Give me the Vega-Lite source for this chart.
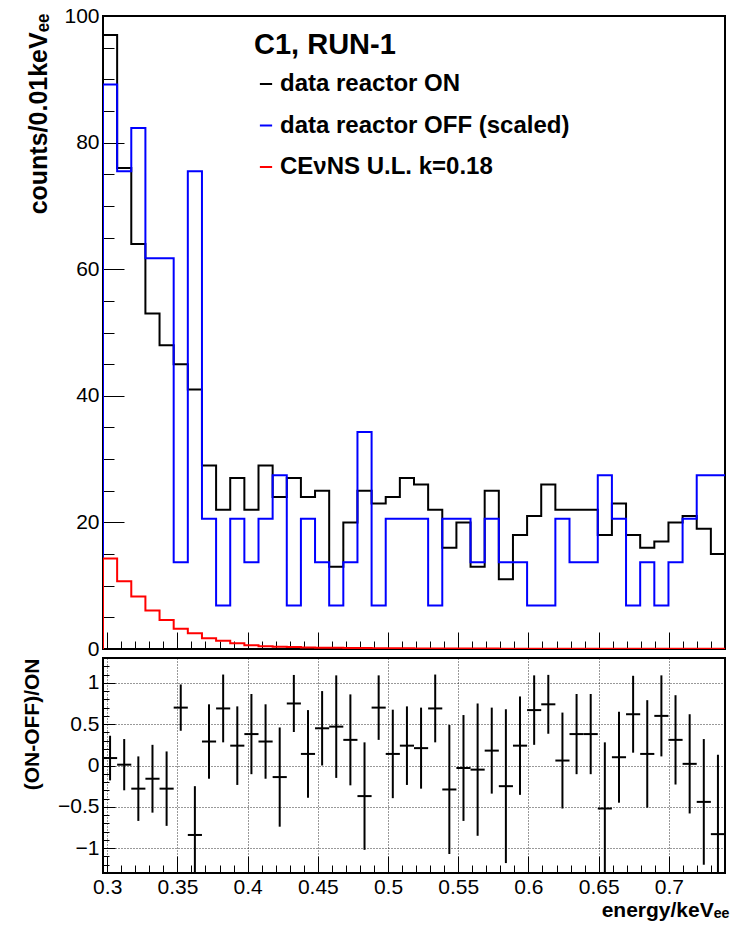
{
  "$schema": "https://vega.github.io/schema/vega-lite/v6.json",
  "padding": {"left": 20, "top": 4, "right": 5, "bottom": 5},
  "background": "white",
  "config": {
    "font": "Liberation Sans",
    "view": {"stroke": "black", "strokeWidth": 2},
    "axis": {"labelFont": "Liberation Sans", "labelFontSize": 21, "labelColor": "black", "titleFont": "Liberation Sans", "titleFontWeight": "bold", "titleFontSize": 21, "titleColor": "black", "tickColor": "black", "domain": false, "labelOverlap": false, "labelFlush": false, "labelBound": false}
  },
  "bounds": "flush",
  "spacing": 9,
  "datasets": {
    "hist": [
      {"lo": 0.297, "on": 0, "off": 0, "ul": 0},
      {"lo": 0.297, "on": 97, "off": 89.18, "ul": 14.3},
      {"lo": 0.30707, "on": 76, "off": 75.46, "ul": 10.7},
      {"lo": 0.31714, "on": 64, "off": 82.32, "ul": 8.3},
      {"lo": 0.3272, "on": 53, "off": 61.74, "ul": 6.1},
      {"lo": 0.33727, "on": 48, "off": 61.74, "ul": 4.6},
      {"lo": 0.34734, "on": 45, "off": 13.72, "ul": 3.2},
      {"lo": 0.35741, "on": 41, "off": 75.46, "ul": 2.5},
      {"lo": 0.36748, "on": 29, "off": 20.58, "ul": 1.7},
      {"lo": 0.37755, "on": 22, "off": 6.86, "ul": 1.3},
      {"lo": 0.38761, "on": 27, "off": 20.58, "ul": 0.9},
      {"lo": 0.39768, "on": 22, "off": 13.72, "ul": 0.6},
      {"lo": 0.40775, "on": 29, "off": 20.58, "ul": 0.45},
      {"lo": 0.41782, "on": 24, "off": 27.44, "ul": 0.35},
      {"lo": 0.42789, "on": 27, "off": 6.86, "ul": 0.3},
      {"lo": 0.43795, "on": 24, "off": 20.58, "ul": 0.25},
      {"lo": 0.44802, "on": 25, "off": 13.72, "ul": 0.2},
      {"lo": 0.45809, "on": 13, "off": 6.86, "ul": 0.18},
      {"lo": 0.46816, "on": 20, "off": 13.72, "ul": 0.16},
      {"lo": 0.47823, "on": 25, "off": 34.3, "ul": 0.14},
      {"lo": 0.4883, "on": 23, "off": 6.86, "ul": 0.12},
      {"lo": 0.49836, "on": 24, "off": 20.58, "ul": 0.11},
      {"lo": 0.50843, "on": 27, "off": 20.58, "ul": 0.1},
      {"lo": 0.5185, "on": 26, "off": 20.58, "ul": 0.09},
      {"lo": 0.52857, "on": 22, "off": 6.86, "ul": 0.08},
      {"lo": 0.53864, "on": 16, "off": 20.58, "ul": 0.07},
      {"lo": 0.5487, "on": 20, "off": 20.58, "ul": 0.07},
      {"lo": 0.55877, "on": 13, "off": 13.72, "ul": 0.06},
      {"lo": 0.56884, "on": 25, "off": 20.58, "ul": 0.06},
      {"lo": 0.57891, "on": 11, "off": 13.72, "ul": 0.05},
      {"lo": 0.58898, "on": 18, "off": 13.72, "ul": 0.05},
      {"lo": 0.59905, "on": 21, "off": 6.86, "ul": 0.05},
      {"lo": 0.60911, "on": 26, "off": 6.86, "ul": 0.04},
      {"lo": 0.61918, "on": 22, "off": 20.58, "ul": 0.04},
      {"lo": 0.62925, "on": 22, "off": 13.72, "ul": 0.04},
      {"lo": 0.63932, "on": 22, "off": 13.72, "ul": 0.04},
      {"lo": 0.64939, "on": 18, "off": 27.44, "ul": 0.03},
      {"lo": 0.65945, "on": 23, "off": 20.58, "ul": 0.03},
      {"lo": 0.66952, "on": 18, "off": 6.86, "ul": 0.03},
      {"lo": 0.67959, "on": 16, "off": 13.72, "ul": 0.03},
      {"lo": 0.68966, "on": 17, "off": 6.86, "ul": 0.03},
      {"lo": 0.69973, "on": 20, "off": 13.72, "ul": 0.03},
      {"lo": 0.7098, "on": 21, "off": 20.58, "ul": 0.02},
      {"lo": 0.71986, "on": 19, "off": 27.44, "ul": 0.02},
      {"lo": 0.72993, "on": 15, "off": 27.44, "ul": 0.02},
      {"lo": 0.74, "on": 15, "off": 27.44, "ul": 0.02}
    ],
    "ratio": [
      {"lo": 0.297, "hi": 0.30707, "mid": 0.30203, "r": 0.09, "rlo": -0.18, "rhi": 0.36},
      {"lo": 0.30707, "hi": 0.31714, "mid": 0.3121, "r": 0.01, "rlo": -0.3, "rhi": 0.32},
      {"lo": 0.31714, "hi": 0.3272, "mid": 0.32217, "r": -0.28, "rlo": -0.67, "rhi": 0.11},
      {"lo": 0.3272, "hi": 0.33727, "mid": 0.33224, "r": -0.16, "rlo": -0.57, "rhi": 0.25},
      {"lo": 0.33727, "hi": 0.34734, "mid": 0.3423, "r": -0.28, "rlo": -0.73, "rhi": 0.17},
      {"lo": 0.34734, "hi": 0.35741, "mid": 0.35237, "r": 0.7, "rlo": 0.42, "rhi": 0.98},
      {"lo": 0.35741, "hi": 0.36748, "mid": 0.36244, "r": -0.84, "rlo": -1.43, "rhi": -0.25},
      {"lo": 0.36748, "hi": 0.37755, "mid": 0.37251, "r": 0.29, "rlo": -0.16, "rhi": 0.74},
      {"lo": 0.37755, "hi": 0.38761, "mid": 0.38258, "r": 0.69, "rlo": 0.28, "rhi": 1.1},
      {"lo": 0.38761, "hi": 0.39768, "mid": 0.39265, "r": 0.24, "rlo": -0.235, "rhi": 0.715},
      {"lo": 0.39768, "hi": 0.40775, "mid": 0.40271, "r": 0.38, "rlo": -0.105, "rhi": 0.865},
      {"lo": 0.40775, "hi": 0.41782, "mid": 0.41278, "r": 0.29, "rlo": -0.16, "rhi": 0.74},
      {"lo": 0.41782, "hi": 0.42789, "mid": 0.42285, "r": -0.14, "rlo": -0.74, "rhi": 0.46},
      {"lo": 0.42789, "hi": 0.43795, "mid": 0.43292, "r": 0.75, "rlo": 0.405, "rhi": 1.095},
      {"lo": 0.43795, "hi": 0.44802, "mid": 0.44299, "r": 0.14, "rlo": -0.39, "rhi": 0.67},
      {"lo": 0.44802, "hi": 0.45809, "mid": 0.45306, "r": 0.45, "rlo": 0.0, "rhi": 0.9},
      {"lo": 0.45809, "hi": 0.46816, "mid": 0.46312, "r": 0.47, "rlo": -0.15, "rhi": 1.09},
      {"lo": 0.46816, "hi": 0.47823, "mid": 0.47319, "r": 0.31, "rlo": -0.24, "rhi": 0.86},
      {"lo": 0.47823, "hi": 0.4883, "mid": 0.48326, "r": -0.37, "rlo": -1.02, "rhi": 0.28},
      {"lo": 0.4883, "hi": 0.49836, "mid": 0.49333, "r": 0.7, "rlo": 0.31, "rhi": 1.09},
      {"lo": 0.49836, "hi": 0.50843, "mid": 0.5034, "r": 0.14, "rlo": -0.395, "rhi": 0.675},
      {"lo": 0.50843, "hi": 0.5185, "mid": 0.51347, "r": 0.24, "rlo": -0.235, "rhi": 0.715},
      {"lo": 0.5185, "hi": 0.52857, "mid": 0.52353, "r": 0.21, "rlo": -0.28, "rhi": 0.7},
      {"lo": 0.52857, "hi": 0.53864, "mid": 0.5336, "r": 0.69, "rlo": 0.28, "rhi": 1.1},
      {"lo": 0.53864, "hi": 0.5487, "mid": 0.54367, "r": -0.29, "rlo": -1.07, "rhi": 0.49},
      {"lo": 0.5487, "hi": 0.55877, "mid": 0.55374, "r": -0.03, "rlo": -0.67, "rhi": 0.61},
      {"lo": 0.55877, "hi": 0.56884, "mid": 0.56381, "r": -0.05, "rlo": -0.85, "rhi": 0.75},
      {"lo": 0.56884, "hi": 0.57891, "mid": 0.57388, "r": 0.18, "rlo": -0.34, "rhi": 0.7},
      {"lo": 0.57891, "hi": 0.58898, "mid": 0.58394, "r": -0.25, "rlo": -1.18, "rhi": 0.68},
      {"lo": 0.58898, "hi": 0.59905, "mid": 0.59401, "r": 0.24, "rlo": -0.355, "rhi": 0.835},
      {"lo": 0.59905, "hi": 0.60911, "mid": 0.60408, "r": 0.67, "rlo": 0.25, "rhi": 1.09},
      {"lo": 0.60911, "hi": 0.61918, "mid": 0.61415, "r": 0.74, "rlo": 0.384, "rhi": 1.096},
      {"lo": 0.61918, "hi": 0.62925, "mid": 0.62422, "r": 0.06, "rlo": -0.52, "rhi": 0.64},
      {"lo": 0.62925, "hi": 0.63932, "mid": 0.63429, "r": 0.38, "rlo": -0.105, "rhi": 0.865},
      {"lo": 0.63932, "hi": 0.64939, "mid": 0.64435, "r": 0.38, "rlo": -0.105, "rhi": 0.865},
      {"lo": 0.64939, "hi": 0.65945, "mid": 0.65442, "r": -0.52, "rlo": -1.32, "rhi": 0.28},
      {"lo": 0.65945, "hi": 0.66952, "mid": 0.66449, "r": 0.1, "rlo": -0.45, "rhi": 0.65},
      {"lo": 0.66952, "hi": 0.67959, "mid": 0.67456, "r": 0.62, "rlo": 0.155, "rhi": 1.085},
      {"lo": 0.67959, "hi": 0.68966, "mid": 0.68463, "r": 0.14, "rlo": -0.51, "rhi": 0.79},
      {"lo": 0.68966, "hi": 0.69973, "mid": 0.6947, "r": 0.6, "rlo": 0.11, "rhi": 1.09},
      {"lo": 0.69973, "hi": 0.7098, "mid": 0.70476, "r": 0.31, "rlo": -0.23, "rhi": 0.85},
      {"lo": 0.7098, "hi": 0.71986, "mid": 0.71483, "r": 0.02, "rlo": -0.58, "rhi": 0.62},
      {"lo": 0.71986, "hi": 0.72993, "mid": 0.7249, "r": -0.44, "rlo": -1.2, "rhi": 0.32},
      {"lo": 0.72993, "hi": 0.74, "mid": 0.73497, "r": -0.83, "rlo": -1.79, "rhi": 0.13}
    ]
  },
  "vconcat": [
    {
      "width": 622,
      "height": 633,
      "data": {"name": "hist"},
      "transform": [{"fold": ["on", "off", "ul"], "as": ["series", "count"]}],
      "mark": {"type": "line", "interpolate": "step-after", "strokeWidth": 2, "clip": true},
      "encoding": {
        "x": {
          "field": "lo", "type": "quantitative",
          "scale": {"domain": [0.297, 0.74], "nice": false, "zero": false},
          "axis": {
            "title": null, "labels": false, "grid": false,
            "values": [0.3, 0.31, 0.32, 0.33, 0.34, 0.35, 0.36, 0.37, 0.38, 0.39, 0.4, 0.41, 0.42, 0.43, 0.44, 0.45, 0.46, 0.47, 0.48, 0.49, 0.5, 0.51, 0.52, 0.53, 0.54, 0.55, 0.56, 0.57, 0.58, 0.59, 0.6, 0.61, 0.62, 0.63, 0.64, 0.65, 0.66, 0.67, 0.68, 0.69, 0.7, 0.71, 0.72, 0.73, 0.74],
            "tickSize": {"condition": {"test": "abs(datum.value*20 - round(datum.value*20)) < 0.000001", "value": -17}, "value": -8}
          }
        },
        "y": {
          "field": "count", "type": "quantitative",
          "scale": {"domain": [0, 100], "nice": false},
          "axis": {
            "title": "counts/0.01keVₑₑ", "titleFontSize": 25,
            "titleAnchor": "end", "titleAlign": "right", "titleX": -52, "titleY": -3, "titleBaseline": "bottom", "titleAngle": -90,
            "grid": false, "labelPadding": 25, "labelOverlap": false,
            "values": [0, 5, 10, 15, 20, 25, 30, 35, 40, 45, 50, 55, 60, 65, 70, 75, 80, 85, 90, 95, 100],
            "labelExpr": "datum.value % 20 === 0 ? datum.label : ''",
            "tickSize": {"condition": {"test": "datum.value % 20 === 0", "value": -21}, "value": -11}
          }
        },
        "color": {
          "field": "series", "type": "nominal",
          "scale": {"domain": ["on", "off", "ul"], "range": ["#000000", "#0000ff", "#ff0000"]},
          "legend": {
            "orient": "none", "legendX": 151, "legendY": 15,
            "title": "C1, RUN-1", "titleFontSize": 29, "titleFontWeight": "bold", "titleColor": "black", "titleFont": "Liberation Sans", "titlePadding": 12,
            "labelFont": "Liberation Sans", "labelFontSize": 24, "labelFontWeight": "bold",
            "symbolType": "stroke", "symbolStrokeWidth": 2, "symbolSize": 150, "rowPadding": 17.5, "labelOffset": 2, "padding": 0, "labelLimit": 500,
            "labelExpr": "datum.value === 'on' ? 'data reactor ON' : datum.value === 'off' ? 'data reactor OFF (scaled)' : 'CEνNS U.L. k=0.18'",
            "encode": {
              "labels": {"fill": {"condition": [{"test": "datum.value === 'on'", "value": "#000000"}, {"test": "datum.value === 'off'", "value": "#0000ff"}], "value": "#ff0000"}}
            }
          }
        }
      }
    },
    {
      "width": 622,
      "height": 215,
      "data": {"name": "ratio"},
      "resolve": {"axis": {"x": "independent", "y": "independent"}},
      "layer": [
        {
          "mark": {"type": "rule", "color": "black", "strokeWidth": 2, "clip": true},
          "encoding": {
            "x": {
              "field": "mid", "type": "quantitative",
              "scale": {"domain": [0.297, 0.74], "nice": false, "zero": false},
              "axis": {
                "orient": "bottom",
                "title": "energy/keVₑₑ", "titleAnchor": "end", "titleAlign": "right", "titleX": 626, "titleY": 43, "titleBaseline": "alphabetic",
                "labelPadding": 20, "labelOverlap": false, "format": ".2~f",
                "values": [0.3, 0.35, 0.4, 0.45, 0.5, 0.55, 0.6, 0.65, 0.7],
                "tickSize": -17,
                "grid": true, "gridColor": "#000000", "gridDash": [1, 2], "gridWidth": 1, "gridOpacity": 0.8
              }
            },
            "y": {
              "field": "rlo", "type": "quantitative",
              "scale": {"domain": [-1.3, 1.3], "nice": false, "zero": false},
              "axis": {
                "orient": "left",
                "title": "(ON-OFF)/ON", "titleAnchor": "end", "titleAlign": "right", "titleX": -61, "titleY": 0, "titleBaseline": "bottom", "titleAngle": -90,
                "labelPadding": 16, "labelOverlap": false, "format": "~g",
                "values": [-1, -0.5, 0, 0.5, 1],
                "tickSize": -12,
                "grid": true, "gridColor": "#000000", "gridDash": [1, 2], "gridWidth": 1, "gridOpacity": 0.8
              }
            },
            "y2": {"field": "rhi"}
          }
        },
        {
          "mark": {"type": "rule", "color": "black", "strokeWidth": 2, "clip": true},
          "encoding": {
            "x": {
              "field": "lo", "type": "quantitative",
              "axis": {
                "orient": "bottom", "title": null, "labels": false, "grid": false, "tickSize": -8,
                "values": [0.31, 0.32, 0.33, 0.34, 0.36, 0.37, 0.38, 0.39, 0.41, 0.42, 0.43, 0.44, 0.46, 0.47, 0.48, 0.49, 0.51, 0.52, 0.53, 0.54, 0.56, 0.57, 0.58, 0.59, 0.61, 0.62, 0.63, 0.64, 0.66, 0.67, 0.68, 0.69, 0.71, 0.72, 0.73]
              }
            },
            "x2": {"field": "hi"},
            "y": {
              "field": "r", "type": "quantitative",
              "axis": {
                "orient": "left", "title": null, "labels": false, "grid": false, "tickSize": -6,
                "values": [-1.3, -1.2, -1.1, -0.9, -0.8, -0.7, -0.6, -0.4, -0.3, -0.2, -0.1, 0.1, 0.2, 0.3, 0.4, 0.6, 0.7, 0.8, 0.9, 1.1, 1.2, 1.3]
              }
            }
          }
        }
      ]
    }
  ]
}
